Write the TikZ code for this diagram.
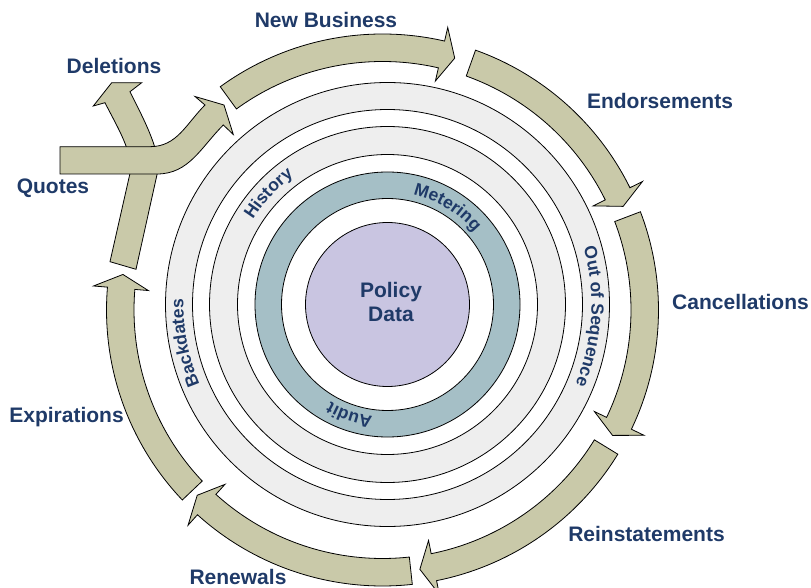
\documentclass[tikz,border=0pt]{standalone}
\usepackage{fontspec}
\setmainfont{Liberation Sans}
\usetikzlibrary{calc, decorations.text}
\definecolor{navy}{HTML}{1F3A68}
\definecolor{tan}{HTML}{C9C9A9}
\definecolor{ringgrey}{HTML}{EEEEEE}
\definecolor{meter}{HTML}{A5BFC6}
\definecolor{policy}{HTML}{C9C5E1}
\tikzset{
  band/.style={fill=tan, draw=black, line width=0.8pt},
  ring/.style={draw=black, line width=0.8pt},
  stage/.style={text=navy, font=\fontsize{21}{24}\selectfont\bfseries, align=center, inner sep=0pt}
}
\newcommand{\ringfont}{\fontsize{17.5}{20}\selectfont\bfseries\color{navy}}
% block arrow on the outer circle: tail angle, head base angle, tip angle
\newcommand{\cyclearrow}[3]{
  \filldraw[band] ($(A)+(#1:276)$) arc[start angle=#1, end angle=#2, radius=276]
    -- ($(A)+(#2:290)$) -- ($(A)+(#3:262)$) -- ($(A)+(#2:235)$)
    -- ($(A)+(#2:248.5)$) arc[start angle=#2, end angle=#1, radius=248.5] -- cycle;
}
% text on a ring, read clockwise: centre angle, baseline radius, text
\newcommand{\ringlabel}[3]{
  \path[decorate, decoration={text along path, text align=center, text={|\ringfont|#3}}]
    ($(R)+(#1+40:#2)$) arc[start angle=#1+40, end angle=#1-40, radius=#2];
}

\begin{document}
\begin{tikzpicture}[x=1pt, y=1pt]
  \useasboundingbox (0,0) rectangle (811,587);
  \coordinate (A) at (382.5,277);
  \coordinate (R) at (387.5,282.5);

  % rings
  \foreach \r/\c in {222/ringgrey, 195/white, 178/ringgrey, 150/white, 132.5/meter, 106/white, 82/policy}
    \filldraw[ring, fill=\c] (R) circle[radius=\r];
  \node[stage] (policy) at (391,285) {Policy\\Data};
  \ringlabel{137}{159}{History}
  \ringlabel{58.4}{113}{Metering}
  \ringlabel{-108.9}{113}{Audit}
  \ringlabel{-3.4}{204}{Out of Sequence}
  \ringlabel{190.7}{204}{Backdates}

  % cycle arrows
  \cyclearrow{126}{77}{74}
  \cyclearrow{70.3}{26.3}{23.3}
  \cyclearrow{20.85}{-25.6}{-28.6}
  \cyclearrow{-31.5}{-78.7}{-81.8}
  \cyclearrow{-83.8}{-132.1}{-135}
  \cyclearrow{-136.5}{-184.75}{-187.8}

  % deletions branch, then quotes on top
  \filldraw[band] (110,325.3) -- (130,413.7) .. controls (134.5,433) and (115,464) .. (105,484.3)
    -- (93.3,481) -- (111.7,504.3) -- (141.7,504.3) -- (130,495.3)
    .. controls (145.7,464) and (161.8,433.2) .. (157.3,413.7) -- (136,317.7) -- cycle;
  \filldraw[band] (60,413) -- (157,413) .. controls (189,413) and (200.7,439.4) .. (223.3,462)
    -- (233.3,452.5) -- (224,482) -- (195,490.5) -- (205,482)
    .. controls (186,463) and (177,440.3) .. (150,440.3) -- (60,440.3) -- cycle;

  \node[stage] (newbiz) at (326,567) {New Business};
  \node[stage] (deletions) at (114,521) {Deletions};
  \node[stage] (quotes) at (53,398.5) {Quotes};
  \node[stage] (endorse) at (660,486) {Endorsements};
  \node[stage] (cancel) at (740.5,285) {Cancellations};
  \node[stage] (reinstate) at (646.5,53.5) {Reinstatements};
  \node[stage] (renew) at (238,10.5) {Renewals};
  \node[stage] (expire) at (66.5,169.5) {Expirations};
\end{tikzpicture}
\end{document}
